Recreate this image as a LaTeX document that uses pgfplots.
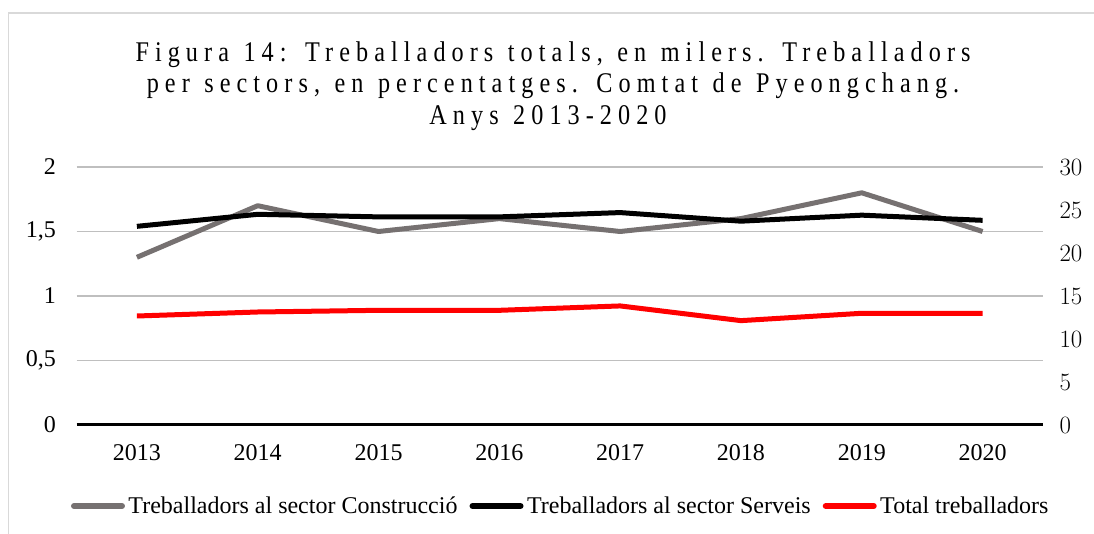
\documentclass[border=0pt]{standalone}
\usepackage{pgfplots}
\pgfplotsset{compat=1.18}
\usepackage{fontspec}
\setmainfont{Liberation Serif}
\newfontfamily\titlefont[LetterSpace=25,WordSpace=1.2]{Liberation Serif}
\definecolor{cgray}{RGB}{118,113,113}
\definecolor{cgrid}{RGB}{191,191,191}
\definecolor{cframe}{RGB}{217,217,217}
\newcommand{\tl}[1]{\scalebox{0.85}[1]{\titlefont\fontsize{28.5}{31}\selectfont #1}}
\begin{document}
\begin{tikzpicture}[x=1pt,y=1pt]
\useasboundingbox (0,0) rectangle (1094,-534);
\draw[cframe, line width=1.5pt] (8.5,-534) -- (8.5,-13) -- (1094,-13);
\node[anchor=base, inner sep=0pt] at (553,-61.7) {\tl{Figura 14: Treballadors totals, en milers. Treballadors}};
\node[anchor=base, inner sep=0pt] at (553,-93) {\tl{per sectors, en percentatges. Comtat de Pyeongchang.}};
\node[anchor=base, inner sep=0pt] at (548,-124.3) {\tl{Anys 2013-2020}};
\pgfplotsset{
  common/.style={
    scale only axis, width=966.5pt, height=258pt,
    at={(76.5pt,-425pt)}, anchor=south west,
    xmin=-0.5, xmax=7.5,
    axis line style={draw=none},
    major tick length=0pt,
    tick label style={font=\fontsize{24}{28}\selectfont},
  }
}
\begin{axis}[common,
  ymin=0, ymax=2,
  xtick={0,...,7},
  xticklabels={2013,2014,2015,2016,2017,2018,2019,2020},
  xticklabel style={yshift=-16pt},
  ytick={0,0.5,1,1.5,2},
  yticklabels={0,{0,5},1,{1,5},2},
  yticklabel style={xshift=-17pt},
  ymajorgrids,
  grid style={cgrid, line width=1.5pt},
  legend columns=3,
  legend style={at={(0.5,-0.314)}, anchor=center, draw=none, fill=none,
    font=\fontsize{24}{28}\selectfont,
    nodes={inner xsep=0pt},
    /tikz/every odd column/.append style={column sep=3.5pt},
    /tikz/every even column/.append style={column sep=12pt}},
  legend image code/.code={\draw[#1, line width=6pt, line cap=round] (0pt,0pt) -- (48pt,0pt);},
]
\addplot[cgray, line width=5pt, line join=round] coordinates {
(0,1.30) (1,1.70) (2,1.50) (3,1.60) (4,1.50) (5,1.60) (6,1.80) (7,1.50)};
\addlegendentry{Treballadors al sector Construcció}
\addlegendimage{black, line width=5pt}
\addlegendentry{Treballadors al sector Serveis}
\addplot[red, line width=5pt, line join=round] coordinates {
(0,0.845) (1,0.876) (2,0.889) (3,0.889) (4,0.923) (5,0.809) (6,0.866) (7,0.866)};
\addlegendentry{Total treballadors}
\end{axis}
\begin{axis}[common,
  ymin=0, ymax=30,
  axis y line*=right,
  hide x axis,
  ytick={0,5,...,30},
  yticklabel style={xshift=13pt},
]
\addplot[black, line width=5pt, line join=round] coordinates {
(0,23.1) (1,24.5) (2,24.2) (3,24.2) (4,24.7) (5,23.7) (6,24.4) (7,23.8)};
\draw[black, line width=4pt] (axis cs:-0.5,0) -- (axis cs:7.5,0);
\end{axis}
\end{tikzpicture}
\end{document}
